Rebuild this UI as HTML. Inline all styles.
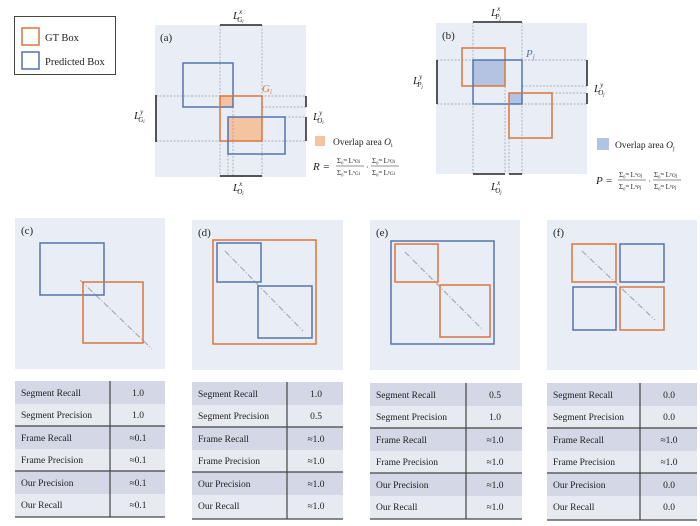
<!DOCTYPE html>
<html><head><meta charset="utf-8"><style>
html,body{margin:0;padding:0;background:#fff;width:700px;height:526px;overflow:hidden}
svg text{font-family:"Liberation Serif",serif;fill:#222}
</style></head><body>
<svg width="700" height="526" viewBox="0 0 700 526" xmlns="http://www.w3.org/2000/svg">
<defs>
<g id="r"></g>
</defs>
<!-- legend -->
<rect x="14.5" y="16.5" width="101" height="58" fill="#fff" stroke="#444" stroke-width="1"/>
<rect x="22" y="28" width="17" height="17" fill="none" stroke="#d9773f" stroke-width="1.5"/>
<rect x="22" y="52" width="17" height="17" fill="none" stroke="#5673ad" stroke-width="1.5"/>
<text x="45" y="41" font-size="10.5">GT Box</text>
<text x="45" y="65" font-size="10.5">Predicted Box</text>

<!-- panel a -->
<rect x="155" y="25" width="151" height="152" fill="#e9eef6"/>
<text x="160" y="41" font-size="11">(a)</text>
<rect x="220" y="96" width="13" height="11" fill="#f3c3a2"/>
<rect x="228" y="117" width="34" height="24" fill="#f3c3a2"/>
<g stroke="#999" stroke-width="0.7" stroke-dasharray="2,1.5" fill="none">
<line x1="220" y1="25" x2="220" y2="177"/><line x1="262" y1="25" x2="262" y2="177"/>
<line x1="228" y1="141" x2="228" y2="177"/><line x1="233" y1="107" x2="233" y2="177"/>
<line x1="156" y1="96" x2="306" y2="96"/><line x1="156" y1="141" x2="306" y2="141"/>
<line x1="262" y1="107" x2="306" y2="107"/><line x1="285" y1="117" x2="306" y2="117"/>
</g>
<rect x="183" y="63" width="50" height="44" fill="none" stroke="#5673ad" stroke-width="1.5"/>
<rect x="220" y="96" width="42" height="45" fill="none" stroke="#d9773f" stroke-width="1.5"/>
<rect x="228" y="117" width="57" height="37" fill="none" stroke="#5673ad" stroke-width="1.5"/>
<text x="262" y="92" font-size="11" font-style="italic" style="fill:#d9773f">G<tspan font-size="7" dy="2">i</tspan></text>
<g stroke="#222" stroke-width="1.5">
<line x1="220" y1="25" x2="262" y2="25"/><line x1="220" y1="176" x2="262" y2="176"/>
<line x1="156" y1="95" x2="156" y2="142"/><line x1="306" y1="96" x2="306" y2="107"/><line x1="306" y1="117" x2="306" y2="141"/>
</g>
<text x="233" y="19" font-size="11" font-style="italic">L<tspan font-size="7" dy="-5">x</tspan><tspan font-size="7" dx="-5" dy="8">G</tspan><tspan font-size="5" dy="1">i</tspan></text>
<text x="233" y="191" font-size="11" font-style="italic">L<tspan font-size="7" dy="-5">x</tspan><tspan font-size="7" dx="-5" dy="8">O</tspan><tspan font-size="5" dy="1">i</tspan></text>
<text x="134" y="119" font-size="11" font-style="italic">L<tspan font-size="7" dy="-5">y</tspan><tspan font-size="7" dx="-5" dy="8">G</tspan><tspan font-size="5" dy="1">i</tspan></text>
<text x="313" y="120" font-size="11" font-style="italic">L<tspan font-size="7" dy="-5">y</tspan><tspan font-size="7" dx="-5" dy="8">O</tspan><tspan font-size="5" dy="1">i</tspan></text>
<rect x="315" y="136" width="10" height="10" fill="#f3c3a2"/>
<text x="333" y="145" font-size="9.5">Overlap area  <tspan font-style="italic">O</tspan><tspan font-size="6" dy="2">i</tspan></text>
<text x="313" y="170" font-size="11" font-style="italic">R =</text>
<text x="337" y="163" font-size="7">Σ₀ᵐ Lˣ<tspan font-size="5">Oi</tspan></text>
<line x1="336" y1="166" x2="364" y2="166" stroke="#222" stroke-width="0.6"/>
<text x="337" y="175" font-size="7">Σ₀ᵐ Lˣ<tspan font-size="5">Gi</tspan></text>
<text x="366" y="170" font-size="8">·</text>
<text x="372" y="163" font-size="7">Σ₀ᵐ Lʸ<tspan font-size="5">Oi</tspan></text>
<line x1="371" y1="166" x2="399" y2="166" stroke="#222" stroke-width="0.6"/>
<text x="372" y="175" font-size="7">Σ₀ᵐ Lʸ<tspan font-size="5">Gi</tspan></text>

<!-- panel b -->
<rect x="436" y="23" width="151" height="151" fill="#e9eef6"/>
<text x="442" y="39" font-size="11">(b)</text>
<rect x="473" y="60" width="32" height="26" fill="#b3c4e2"/>
<rect x="509" y="93" width="13" height="11" fill="#b3c4e2"/>
<g stroke="#999" stroke-width="0.7" stroke-dasharray="2,1.5" fill="none">
<line x1="473" y1="22" x2="473" y2="174"/><line x1="522" y1="22" x2="522" y2="174"/>
<line x1="505" y1="86" x2="505" y2="174"/><line x1="509" y1="138" x2="509" y2="174"/>
<line x1="437" y1="60" x2="587" y2="60"/><line x1="437" y1="104" x2="587" y2="104"/>
<line x1="522" y1="86" x2="587" y2="86"/><line x1="552" y1="93" x2="587" y2="93"/>
</g>
<rect x="462" y="48" width="43" height="38" fill="none" stroke="#d9773f" stroke-width="1.5"/>
<rect x="473" y="60" width="49" height="44" fill="none" stroke="#5673ad" stroke-width="1.5"/>
<rect x="509" y="93" width="43" height="45" fill="none" stroke="#d9773f" stroke-width="1.5"/>
<text x="526" y="57" font-size="11" font-style="italic" style="fill:#5673ad">P<tspan font-size="7" dy="2">j</tspan></text>
<g stroke="#222" stroke-width="1.5">
<line x1="473" y1="22" x2="522" y2="22"/><line x1="473" y1="174" x2="505" y2="174"/><line x1="509" y1="174" x2="522" y2="174"/>
<line x1="437" y1="60" x2="437" y2="104"/><line x1="587" y1="60" x2="587" y2="86"/><line x1="587" y1="93" x2="587" y2="104"/>
</g>
<text x="491" y="16" font-size="11" font-style="italic">L<tspan font-size="7" dy="-5">x</tspan><tspan font-size="7" dx="-5" dy="8">P</tspan><tspan font-size="5" dy="1">j</tspan></text>
<text x="491" y="190" font-size="11" font-style="italic">L<tspan font-size="7" dy="-5">x</tspan><tspan font-size="7" dx="-5" dy="8">O</tspan><tspan font-size="5" dy="1">j</tspan></text>
<text x="413" y="84" font-size="11" font-style="italic">L<tspan font-size="7" dy="-5">y</tspan><tspan font-size="7" dx="-5" dy="8">P</tspan><tspan font-size="5" dy="1">j</tspan></text>
<text x="594" y="92" font-size="11" font-style="italic">L<tspan font-size="7" dy="-5">y</tspan><tspan font-size="7" dx="-5" dy="8">O</tspan><tspan font-size="5" dy="1">j</tspan></text>
<rect x="597" y="138" width="12" height="12" fill="#b3c4e2"/>
<text x="615" y="148" font-size="9.5">Overlap area  <tspan font-style="italic">O</tspan><tspan font-size="6" dy="2">j</tspan></text>
<text x="596" y="184" font-size="11" font-style="italic">P =</text>
<text x="619" y="177" font-size="7">Σ₀ᵐ Lˣ<tspan font-size="5">Oj</tspan></text>
<line x1="618" y1="180" x2="646" y2="180" stroke="#222" stroke-width="0.6"/>
<text x="619" y="189" font-size="7">Σ₀ᵐ Lˣ<tspan font-size="5">Pj</tspan></text>
<text x="648" y="184" font-size="8">·</text>
<text x="654" y="177" font-size="7">Σ₀ᵐ Lʸ<tspan font-size="5">Oj</tspan></text>
<line x1="653" y1="180" x2="681" y2="180" stroke="#222" stroke-width="0.6"/>
<text x="654" y="189" font-size="7">Σ₀ᵐ Lʸ<tspan font-size="5">Pj</tspan></text>

<!-- lower panels -->
<g fill="#e9eef6">
<rect x="15" y="218" width="150" height="151"/><rect x="192" y="220" width="151" height="150"/>
<rect x="370" y="220" width="150" height="150"/><rect x="547" y="220" width="150" height="150"/>
</g>
<text x="21" y="234" font-size="11">(c)</text><text x="198" y="236" font-size="11">(d)</text>
<text x="376" y="236" font-size="11">(e)</text><text x="553" y="236" font-size="11">(f)</text>
<g stroke="#aaa" stroke-width="1.2" stroke-dasharray="6,2,1,2">
<line x1="80" y1="280" x2="152" y2="349"/><line x1="225" y1="251" x2="303" y2="331"/>
<line x1="405" y1="252" x2="483" y2="330"/><line x1="582" y1="251" x2="655" y2="320"/>
</g>
<g fill="none" stroke-width="1.5">
<rect x="40" y="243" width="64" height="52" stroke="#5673ad"/>
<rect x="83" y="282" width="60" height="61" stroke="#d9773f"/>
<rect x="213" y="240" width="103" height="104" stroke="#d9773f"/>
<rect x="217" y="243" width="44" height="39" stroke="#5673ad"/>
<rect x="258" y="286" width="54" height="52" stroke="#5673ad"/>
<rect x="391" y="241" width="103" height="103" stroke="#5673ad"/>
<rect x="395" y="244" width="43" height="38" stroke="#d9773f"/>
<rect x="440" y="285" width="50" height="52" stroke="#d9773f"/>
<rect x="572" y="244" width="44" height="38" stroke="#d9773f"/>
<rect x="620" y="244" width="44" height="38" stroke="#5673ad"/>
<rect x="573" y="287" width="43" height="43" stroke="#5673ad"/>
<rect x="620" y="287" width="44" height="43" stroke="#d9773f"/>
</g>

<!-- tables -->
<g font-size="9.5">
<!-- c -->
<g transform="translate(15,381)">
<rect width="150" height="23" fill="#d3d7e6"/><rect y="23" width="150" height="22" fill="#e8eaf2"/>
<rect y="45" width="150" height="23" fill="#d3d7e6"/><rect y="68" width="150" height="22" fill="#e8eaf2"/>
<rect y="90" width="150" height="23" fill="#d3d7e6"/><rect y="113" width="150" height="23" fill="#e8eaf2"/>
<line x1="0" y1="45" x2="150" y2="45" stroke="#444" stroke-width="1.2"/><line x1="0" y1="90" x2="150" y2="90" stroke="#444" stroke-width="1.2"/><line x1="0" y1="136" x2="150" y2="136" stroke="#444" stroke-width="1.2"/>
<line x1="95" y1="0" x2="95" y2="136" stroke="#444" stroke-width="1.2"/>
<text x="6" y="15">Segment Recall</text><text x="6" y="37">Segment Precision</text><text x="6" y="60">Frame Recall</text><text x="6" y="82">Frame Precision</text><text x="6" y="105">Our Precision</text><text x="6" y="127">Our Recall</text>
<g text-anchor="middle"><text x="123" y="15">1.0</text><text x="123" y="37">1.0</text><text x="123" y="60">≈0.1</text><text x="123" y="82">≈0.1</text><text x="123" y="105">≈0.1</text><text x="123" y="127">≈0.1</text></g>
</g>
<!-- d -->
<g transform="translate(192,382)">
<rect width="151" height="23" fill="#d3d7e6"/><rect y="23" width="151" height="22" fill="#e8eaf2"/>
<rect y="45" width="151" height="23" fill="#d3d7e6"/><rect y="68" width="151" height="22" fill="#e8eaf2"/>
<rect y="90" width="151" height="23" fill="#d3d7e6"/><rect y="113" width="151" height="24" fill="#e8eaf2"/>
<line x1="0" y1="45" x2="151" y2="45" stroke="#444" stroke-width="1.2"/><line x1="0" y1="90" x2="151" y2="90" stroke="#444" stroke-width="1.2"/><line x1="0" y1="137" x2="151" y2="137" stroke="#444" stroke-width="1.2"/>
<line x1="95" y1="0" x2="95" y2="137" stroke="#444" stroke-width="1.2"/>
<text x="6" y="15">Segment Recall</text><text x="6" y="37">Segment Precision</text><text x="6" y="60">Frame Recall</text><text x="6" y="82">Frame Precision</text><text x="6" y="105">Our Precision</text><text x="6" y="127">Our Recall</text>
<g text-anchor="middle"><text x="124" y="15">1.0</text><text x="124" y="37">0.5</text><text x="124" y="60">≈1.0</text><text x="124" y="82">≈1.0</text><text x="124" y="105">≈1.0</text><text x="124" y="127">≈1.0</text></g>
</g>
<!-- e -->
<g transform="translate(370,383)">
<rect width="152" height="23" fill="#d3d7e6"/><rect y="23" width="152" height="22" fill="#e8eaf2"/>
<rect y="45" width="152" height="23" fill="#d3d7e6"/><rect y="68" width="152" height="22" fill="#e8eaf2"/>
<rect y="90" width="152" height="23" fill="#d3d7e6"/><rect y="113" width="152" height="23" fill="#e8eaf2"/>
<line x1="0" y1="45" x2="152" y2="45" stroke="#444" stroke-width="1.2"/><line x1="0" y1="90" x2="152" y2="90" stroke="#444" stroke-width="1.2"/><line x1="0" y1="136" x2="152" y2="136" stroke="#444" stroke-width="1.2"/>
<line x1="96" y1="0" x2="96" y2="136" stroke="#444" stroke-width="1.2"/>
<text x="6" y="15">Segment Recall</text><text x="6" y="37">Segment Precision</text><text x="6" y="60">Frame Recall</text><text x="6" y="82">Frame Precision</text><text x="6" y="105">Our Precision</text><text x="6" y="127">Our Recall</text>
<g text-anchor="middle"><text x="125" y="15">0.5</text><text x="125" y="37">1.0</text><text x="125" y="60">≈1.0</text><text x="125" y="82">≈1.0</text><text x="125" y="105">≈1.0</text><text x="125" y="127">≈1.0</text></g>
</g>
<!-- f -->
<g transform="translate(547,383)">
<rect width="150" height="23" fill="#d3d7e6"/><rect y="23" width="150" height="22" fill="#e8eaf2"/>
<rect y="45" width="150" height="23" fill="#d3d7e6"/><rect y="68" width="150" height="22" fill="#e8eaf2"/>
<rect y="90" width="150" height="23" fill="#d3d7e6"/><rect y="113" width="150" height="24" fill="#e8eaf2"/>
<line x1="0" y1="45" x2="150" y2="45" stroke="#444" stroke-width="1.2"/><line x1="0" y1="90" x2="150" y2="90" stroke="#444" stroke-width="1.2"/><line x1="0" y1="137" x2="150" y2="137" stroke="#444" stroke-width="1.2"/>
<line x1="93" y1="0" x2="93" y2="137" stroke="#444" stroke-width="1.2"/>
<text x="6" y="15">Segment Recall</text><text x="6" y="37">Segment Precision</text><text x="6" y="60">Frame Recall</text><text x="6" y="82">Frame Precision</text><text x="6" y="105">Our Precision</text><text x="6" y="127">Our Recall</text>
<g text-anchor="middle"><text x="122" y="15">0.0</text><text x="122" y="37">0.0</text><text x="122" y="60">≈1.0</text><text x="122" y="82">≈1.0</text><text x="122" y="105">0.0</text><text x="122" y="127">0.0</text></g>
</g>
</g>
</svg>
</body></html>
